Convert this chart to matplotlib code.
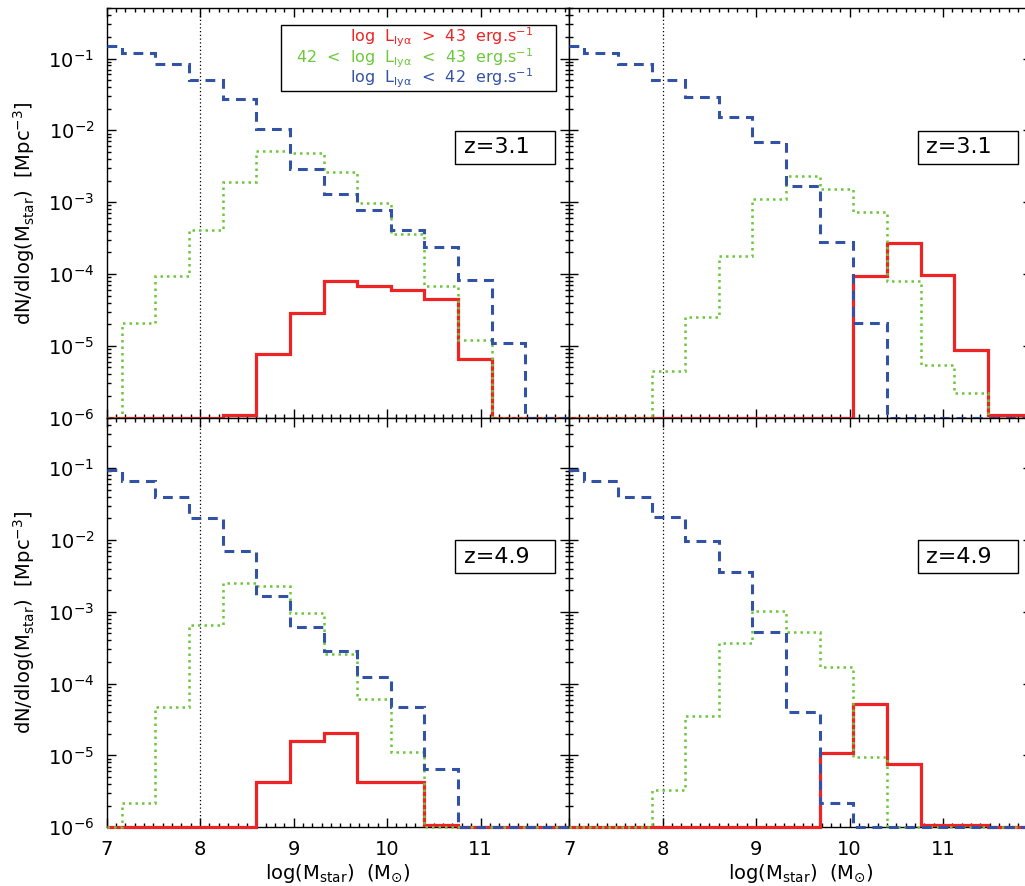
import matplotlib
matplotlib.use("Agg")
import matplotlib.pyplot as plt
import numpy as np
from matplotlib.ticker import MultipleLocator, LogLocator, NullFormatter
from matplotlib.patches import Rectangle

# bin edges in log(Mstar), first/last bins cut at the plot limits
EDGES = [7.0, 7.16, 7.52, 7.88, 8.24, 8.60, 8.96, 9.32, 9.68, 10.04,
         10.40, 10.76, 11.12, 11.48, 11.84, 11.95]

# z=3.1, left
TL_BLUE = [0.148, 0.121, 0.085, 0.050, 0.027, 0.0104, 2.93e-3, 1.3e-3, 7.8e-4,
           4.1e-4, 2.4e-4, 8.3e-5, 1.1e-5, 0, 0]
TL_GREEN = [0, 2.08e-5, 9.3e-5, 4.1e-4, 1.94e-3, 5.2e-3, 4.9e-3, 2.6e-3, 9.7e-4,
            3.6e-4, 6.7e-5, 1.2e-5, 0, 0, 0]
TL_RED = [0, 0, 0, 0, 1.1e-6, 7.6e-6, 2.9e-5, 7.9e-5, 6.7e-5, 6.05e-5, 4.5e-5,
          6.6e-6, 0, 0, 0]

# z=3.1, right
TR_BLUE = [0.148, 0.121, 0.085, 0.051, 0.0287, 0.0155, 6.9e-3, 1.68e-3, 2.8e-4,
           2.1e-5, 0, 0, 0, 0, 0]
TR_GREEN = [0, 0, 0, 4.4e-6, 2.5e-5, 1.8e-4, 1.1e-3, 2.3e-3, 1.55e-3, 7.3e-4,
            8.1e-5, 5.4e-6, 2.2e-6, 0, 0]
TR_RED = [0, 0, 0, 0, 0, 0, 0, 0, 0, 9.3e-5, 2.7e-4, 9.6e-5, 8.7e-6, 1.1e-6, 1.1e-6]

# z=4.9, left
BL_BLUE = [0.095, 0.0665, 0.0394, 0.0201, 7.1e-3, 1.66e-3, 6.1e-4, 2.85e-4,
           1.23e-4, 4.7e-5, 6.5e-6, 0, 0, 0, 0]
BL_GREEN = [0, 2.2e-6, 4.7e-5, 6.6e-4, 2.5e-3, 2.3e-3, 9.5e-4, 2.6e-4, 6.1e-5,
            1.1e-5, 0, 0, 0, 0, 0]
BL_RED = [0, 0, 0, 0, 0, 4.3e-6, 1.6e-5, 2.04e-5, 4.3e-6, 4.3e-6, 1.08e-6,
          0, 0, 0, 0]

# z=4.9, right
BR_BLUE = [0.095, 0.0665, 0.0394, 0.0207, 9.7e-3, 3.6e-3, 5.3e-4, 4.0e-5, 2.2e-6,
           0, 0, 0, 0, 0, 0]
BR_GREEN = [0, 0, 0, 3.3e-6, 3.5e-5, 3.7e-4, 1.04e-3, 5.25e-4, 1.73e-4, 9.6e-6,
            0, 0, 0, 0, 0]
BR_RED = [0, 0, 0, 0, 0, 0, 0, 0, 1.07e-5, 5.2e-5, 7.6e-6, 1.08e-6, 1.08e-6, 0, 0]

PANELS = [
    (TL_BLUE, TL_GREEN, TL_RED, "z=3.1"),
    (TR_BLUE, TR_GREEN, TR_RED, "z=3.1"),
    (BL_BLUE, BL_GREEN, BL_RED, "z=4.9"),
    (BR_BLUE, BR_GREEN, BR_RED, "z=4.9"),
]

LEGEND = [
    (r"log  L$_{\rm ly\alpha}$  >  43  erg.s$^{-1}$", "red"),
    (r"42  <  log  L$_{\rm ly\alpha}$  <  43  erg.s$^{-1}$", "green"),
    (r"log  L$_{\rm ly\alpha}$  <  42  erg.s$^{-1}$", "blue"),
]

COLORS = {"red": "#EE2424", "green": "#6CC83A", "blue": "#3252A6"}
YMIN, YMAX = 1e-6, 10 ** -0.3
XMIN, XMAX = 7.0, 11.95

plt.rcParams["font.family"] = "DejaVu Sans"
plt.rcParams["font.size"] = 14

fig = plt.figure(figsize=(10.25, 8.86), dpi=100)

W, H = 0.4513, 0.4621
positions = [
    [0.1041, 0.5286, W, H],
    [0.5554, 0.5286, W, H],
    [0.1041, 0.0663, W, H],
    [0.5554, 0.0663, W, H],
]

for i, (blue, green, red, zlab) in enumerate(PANELS):
    ax = fig.add_axes(positions[i])
    ax.set_yscale("log")
    ax.set_xlim(XMIN, XMAX)
    ax.set_ylim(YMIN, YMAX)

    ax.stairs(np.maximum(red, YMIN), EDGES, baseline=None, color=COLORS["red"],
              lw=2.3, clip_on=False, zorder=3)
    ax.stairs(np.maximum(green, YMIN), EDGES, baseline=None, color=COLORS["green"],
              lw=1.8, ls=(0, (1, 1.6)), clip_on=False, zorder=4)
    ax.stairs(np.maximum(blue, YMIN), EDGES, baseline=None, color=COLORS["blue"],
              lw=2.2, ls=(0, (3.2, 2.2)), clip_on=False, zorder=5)

    ax.axvline(8, color="black", lw=0.9, ls=(0, (1, 2)), zorder=2)

    ax.xaxis.set_major_locator(MultipleLocator(1))
    ax.xaxis.set_minor_locator(MultipleLocator(0.1))
    ax.yaxis.set_major_locator(LogLocator(base=10, numticks=10))
    ax.yaxis.set_minor_locator(LogLocator(base=10, subs=np.arange(2, 10), numticks=20))
    ax.yaxis.set_minor_formatter(NullFormatter())
    ax.tick_params(which="both", direction="in", top=True, right=True, width=1)
    ax.tick_params(which="major", length=6.5, pad=9)
    ax.tick_params(which="minor", length=3.2)
    for sp in ax.spines.values():
        sp.set_linewidth(1.0)

    if i % 2 == 1:
        ax.tick_params(labelleft=False)
    else:
        ax.set_ylabel(r"dN/dlog(M$_{\rm star}$)  [Mpc$^{-3}$]", labelpad=8)
    if i < 2:
        ax.tick_params(labelbottom=False)
    else:
        ax.set_xlabel(r"log(M$_{\rm star}$)  (M$_{\odot}$)", labelpad=2)

    ax.add_patch(Rectangle((0.753, 0.620), 0.216, 0.081, transform=ax.transAxes,
                           fill=False, ec="black", lw=1.0, zorder=6))
    ax.text(0.772, 0.661, zlab, transform=ax.transAxes, ha="left", va="center",
            fontsize=16, zorder=7)

    if i == 0:
        ax.add_patch(Rectangle((0.377, 0.799), 0.594, 0.160, transform=ax.transAxes,
                               fill=False, ec="black", lw=1.0, zorder=6))
        for k, (txt, col) in enumerate(LEGEND):
            ax.text(0.921, 0.928 - 0.050 * k, txt, transform=ax.transAxes,
                    ha="right", va="center", color=COLORS[col], fontsize=11.5, zorder=7)

fig.savefig("out.png", dpi=100)
